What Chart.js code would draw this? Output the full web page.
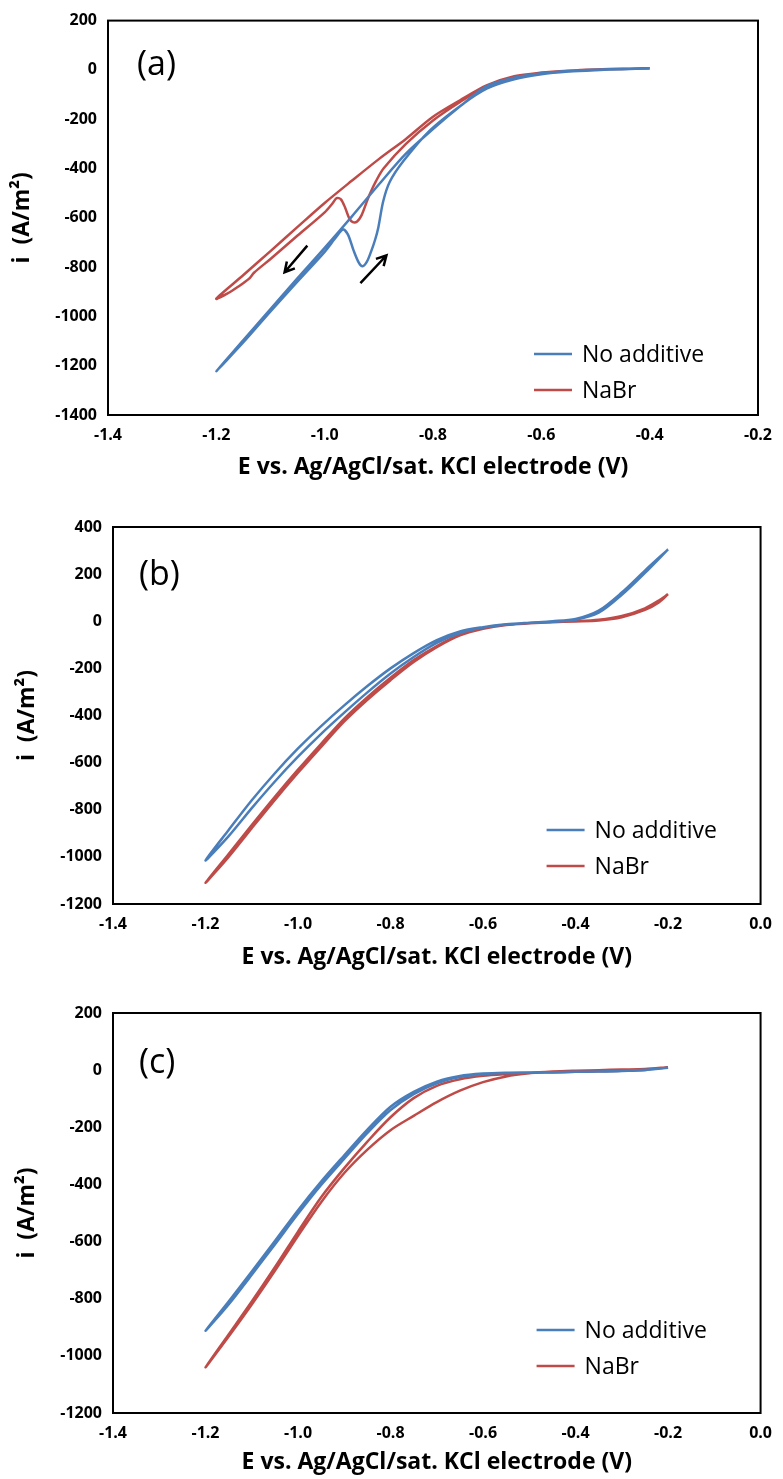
<!DOCTYPE html>
<html>
<head>
<meta charset="utf-8">
<script src="https://cdn.jsdelivr.net/npm/chart.js@4.4.1/dist/chart.umd.min.js"></script>
<style>
    body { margin: 0; background: #fff; }
    #wrap { position: relative; width: 783px; height: 1479px; }
    canvas { position: absolute; left: 0; }
</style>
</head>
<body>
<div id="wrap">
    <canvas id="chartA" width="783" height="490" style="top:0"></canvas>
    <canvas id="chartB" width="783" height="490" style="top:490px"></canvas>
    <canvas id="chartC" width="783" height="499" style="top:980px"></canvas>
</div>
<script>
const seriesLabels = ['No additive', 'NaBr'];
const xTitle = 'E vs. Ag/AgCl/sat. KCl electrode (V)';
const yTitle = 'i  (A/m\u00B2)';

const xTicksA = [-1.4, -1.2, -1.0, -0.8, -0.6, -0.4, -0.2];
const xTicksBC = [-1.4, -1.2, -1.0, -0.8, -0.6, -0.4, -0.2, 0.0];
const yTicksA = [200, 0, -200, -400, -600, -800, -1000, -1200, -1400];
const yTicksB = [400, 200, 0, -200, -400, -600, -800, -1000, -1200];
const yTicksC = [200, 0, -200, -400, -600, -800, -1000, -1200];

// (a) [E, i] pairs, sweep -0.4 -> -1.2 -> -0.4
const aNoAdditive = [
    [-0.40, 6], [-0.45, 4], [-0.50, 1], [-0.55, -4], [-0.60, -14], [-0.65, -32], [-0.70, -65],
    [-0.75, -148], [-0.80, -240], [-0.85, -340], [-0.90, -465], [-0.95, -595], [-1.00, -722],
    [-1.05, -845], [-1.10, -970], [-1.15, -1096], [-1.20, -1222],
    [-1.15, -1105], [-1.10, -980], [-1.05, -858], [-1.00, -738], [-0.978, -676], [-0.966, -648],
    [-0.957, -668], [-0.947, -730], [-0.937, -782], [-0.930, -797], [-0.922, -778], [-0.914, -735],
    [-0.907, -690], [-0.901, -640], [-0.892, -534], [-0.880, -455], [-0.855, -371], [-0.807, -248],
    [-0.746, -140], [-0.70, -75], [-0.65, -38], [-0.60, -18], [-0.55, -7], [-0.50, -1], [-0.45, 3], [-0.40, 6]
];
const aNaBr = [
    [-0.40, 7], [-0.45, 5], [-0.50, 2], [-0.55, -3], [-0.60, -11], [-0.65, -26], [-0.70, -62],
    [-0.75, -123], [-0.80, -190], [-0.85, -280], [-0.90, -362], [-0.95, -450], [-1.00, -540],
    [-1.05, -637], [-1.10, -735], [-1.15, -832], [-1.20, -928],
    [-1.18, -908], [-1.16, -880], [-1.14, -848], [-1.13, -822], [-1.10, -767], [-1.05, -672],
    [-1.00, -578], [-0.985, -540], [-0.978, -520], [-0.970, -525], [-0.962, -560], [-0.955, -600],
    [-0.948, -618], [-0.940, -615], [-0.932, -590], [-0.924, -545], [-0.917, -505], [-0.905, -450],
    [-0.891, -399], [-0.85, -300], [-0.80, -205], [-0.75, -130], [-0.70, -65], [-0.65, -30],
    [-0.60, -13], [-0.55, -4], [-0.50, 1], [-0.45, 4], [-0.40, 7]
];
// arrows in (a): [E0, i0, E1, i1], head at the second point
const arrowsA = [[-1.032, -713, -1.074, -821], [-0.934, -865, -0.886, -753]];

// (b) sweep -0.2 -> -1.2 -> -0.2
const bNoAdditive = [
    [-0.20, 305], [-0.25, 215], [-0.30, 122], [-0.35, 45], [-0.40, 10], [-0.45, 0], [-0.50, -6],
    [-0.55, -13], [-0.60, -25], [-0.65, -43], [-0.70, -80], [-0.75, -135], [-0.80, -200],
    [-0.85, -275], [-0.90, -357], [-0.95, -445], [-1.00, -540], [-1.05, -645], [-1.10, -760],
    [-1.15, -886], [-1.20, -1015],
    [-1.15, -912], [-1.10, -793], [-1.05, -680], [-1.00, -575], [-0.95, -478], [-0.90, -388],
    [-0.85, -302], [-0.80, -222], [-0.75, -152], [-0.70, -92], [-0.65, -50], [-0.60, -27],
    [-0.55, -14], [-0.50, -7], [-0.45, -2], [-0.40, 6], [-0.35, 36], [-0.30, 112], [-0.25, 205], [-0.20, 305]
];
const bNaBr = [
    [-0.20, 115], [-0.22, 88], [-0.25, 55], [-0.30, 22], [-0.35, 6], [-0.40, 0], [-0.45, -3],
    [-0.50, -8], [-0.55, -15], [-0.60, -30], [-0.65, -57], [-0.70, -105], [-0.75, -165],
    [-0.80, -240], [-0.85, -322], [-0.90, -413], [-0.95, -520], [-1.00, -630], [-1.05, -745],
    [-1.10, -865], [-1.15, -988], [-1.20, -1110],
    [-1.15, -1000], [-1.10, -878], [-1.05, -758], [-1.00, -643], [-0.95, -533], [-0.90, -425],
    [-0.85, -333], [-0.80, -250], [-0.75, -173], [-0.70, -110], [-0.65, -60], [-0.60, -32],
    [-0.55, -16], [-0.50, -9], [-0.45, -4], [-0.40, -1], [-0.35, 3], [-0.30, 17], [-0.25, 48], [-0.22, 80], [-0.20, 115]
];

// (c) sweep -0.2 -> -1.2 -> -0.2
const cNoAdditive = [
    [-0.20, 8], [-0.25, 1], [-0.30, -3], [-0.35, -5], [-0.40, -6], [-0.45, -7], [-0.50, -8],
    [-0.55, -9], [-0.60, -12], [-0.65, -20], [-0.70, -40], [-0.75, -76], [-0.80, -128],
    [-0.85, -208], [-0.90, -298], [-0.95, -390], [-1.00, -490], [-1.05, -598], [-1.10, -705],
    [-1.15, -810], [-1.20, -912],
    [-1.15, -820], [-1.10, -716], [-1.05, -610], [-1.00, -503], [-0.95, -402], [-0.90, -310],
    [-0.85, -220], [-0.80, -140], [-0.75, -84], [-0.70, -46], [-0.65, -24], [-0.60, -14],
    [-0.55, -10], [-0.50, -8], [-0.45, -7], [-0.40, -6], [-0.35, -5], [-0.30, -3], [-0.25, 0], [-0.20, 8]
];
const cNaBr = [
    [-0.20, 10], [-0.25, 3], [-0.30, -2], [-0.35, -4], [-0.40, -6], [-0.45, -8], [-0.50, -10],
    [-0.55, -14], [-0.60, -20], [-0.65, -32], [-0.70, -55], [-0.75, -98], [-0.80, -165],
    [-0.85, -250], [-0.90, -343], [-0.95, -445], [-1.00, -565], [-1.05, -690], [-1.10, -810],
    [-1.15, -925], [-1.20, -1040],
    [-1.15, -932], [-1.10, -820], [-1.05, -702], [-1.00, -580], [-0.95, -462], [-0.90, -360],
    [-0.85, -278], [-0.80, -210], [-0.75, -160], [-0.70, -112], [-0.65, -72], [-0.60, -42],
    [-0.55, -22], [-0.50, -11], [-0.45, -5], [-0.40, -2], [-0.35, 0], [-0.30, 2], [-0.25, 4], [-0.20, 10]
];

const colors = ['#4A7EBB', '#BE4B48'];
const tickFont = { family: '"Open Sans", "DejaVu Sans", sans-serif', size: 16, weight: 'bold' };
const titleFont = { family: '"Open Sans", "DejaVu Sans", sans-serif', size: 23, weight: 'bold' };

// box, panel tag, inside legend and arrows
const panelPlugin = {
    id: 'panel',
    afterDraw(chart, args, opts) {
        const { ctx, chartArea: a } = chart;
        ctx.save();
        ctx.strokeStyle = '#000';
        ctx.lineWidth = 2;
        ctx.strokeRect(a.left, a.top, a.right - a.left, a.bottom - a.top);

        ctx.fillStyle = '#000';
        ctx.font = '34px "Open Sans", "DejaVu Sans", sans-serif';
        ctx.textBaseline = 'middle';
        ctx.textAlign = 'left';
        ctx.fillText(opts.tag, a.left + opts.tagX, a.top + opts.tagY);

        ctx.font = '23px "Open Sans", "DejaVu Sans", sans-serif';
        chart.data.datasets.forEach((ds, i) => {
            const y = a.bottom - opts.legendY + i * 36;
            const x = a.right - opts.legendX;
            ctx.strokeStyle = ds.borderColor;
            ctx.lineWidth = 2.5;
            ctx.beginPath();
            ctx.moveTo(x, y);
            ctx.lineTo(x + 38, y);
            ctx.stroke();
            ctx.fillStyle = '#000';
            ctx.fillText(ds.label, x + 48, y + 1);
        });

        const xs = chart.scales.x, ys = chart.scales.y;
        (opts.arrows || []).forEach(ar => {
            const x0 = xs.getPixelForValue(ar[0]), y0 = ys.getPixelForValue(ar[1]);
            const x1 = xs.getPixelForValue(ar[2]), y1 = ys.getPixelForValue(ar[3]);
            const ang = Math.atan2(y1 - y0, x1 - x0);
            ctx.strokeStyle = '#000';
            ctx.lineWidth = 2.5;
            ctx.beginPath();
            ctx.moveTo(x0, y0);
            ctx.lineTo(x1, y1);
            ctx.moveTo(x1 - 11 * Math.cos(ang - 0.5), y1 - 11 * Math.sin(ang - 0.5));
            ctx.lineTo(x1, y1);
            ctx.lineTo(x1 - 11 * Math.cos(ang + 0.5), y1 - 11 * Math.sin(ang + 0.5));
            ctx.stroke();
        });
        ctx.restore();
    }
};

function makeChart(id, p) {
    new Chart(document.getElementById(id), {
        type: 'scatter',
        data: {
            datasets: p.series.map((s, i) => ({
                label: seriesLabels[i],
                data: s.map(d => ({ x: d[0], y: d[1] })),
                showLine: true,
                borderColor: colors[i],
                backgroundColor: colors[i],
                borderWidth: 2.5,
                pointRadius: 0,
                tension: 0.3
            }))
        },
        options: {
            responsive: false,
            animation: false,
            layout: { padding: { top: p.top, right: 17, left: 0, bottom: 0 } },
            plugins: {
                legend: { display: false },
                tooltip: { enabled: false },
                panel: p.panel
            },
            scales: {
                x: {
                    type: 'linear',
                    min: p.xTicks[0],
                    max: p.xTicks[p.xTicks.length - 1],
                    afterBuildTicks: s => { s.ticks = p.xTicks.map(v => ({ value: v })); },
                    afterFit: s => { s.height = p.xHeight; },
                    grid: { display: false, drawTicks: false },
                    border: { display: false },
                    ticks: {
                        color: '#000', font: tickFont, padding: 11, maxRotation: 0,
                        callback: v => v.toFixed(1)
                    },
                    title: {
                        display: true, text: xTitle, color: '#000', font: titleFont,
                        padding: { top: 0, bottom: p.xTitlePad }
                    }
                },
                y: {
                    type: 'linear',
                    min: p.yTicks[p.yTicks.length - 1],
                    max: p.yTicks[0],
                    afterBuildTicks: s => { s.ticks = p.yTicks.map(v => ({ value: v })); },
                    afterFit: s => { s.width = p.left; },
                    grid: { display: false, drawTicks: false },
                    border: { display: false },
                    ticks: { color: '#000', font: tickFont, padding: 11, callback: v => String(v) },
                    title: {
                        display: true, text: yTitle, color: '#000', font: titleFont,
                        padding: { top: p.yTitlePad, bottom: 0 }
                    }
                }
            }
        },
        plugins: [panelPlugin]
    });
}

makeChart('chartA', {
    series: [aNoAdditive, aNaBr], xTicks: xTicksA, yTicks: yTicksA,
    top: 19, left: 108, xHeight: 75, xTitlePad: 9, yTitlePad: 9,
    panel: { tag: '(a)', tagX: 29, tagY: 45, legendX: 224, legendY: 61, arrows: arrowsA }
});
makeChart('chartB', {
    series: [bNoAdditive, bNaBr], xTicks: xTicksBC, yTicks: yTicksB,
    top: 37, left: 113, xHeight: 76, xTitlePad: 9, yTitlePad: 14,
    panel: { tag: '(b)', tagX: 26, tagY: 48, legendX: 214, legendY: 74, arrows: [] }
});
makeChart('chartC', {
    series: [cNoAdditive, cNaBr], xTicks: xTicksBC, yTicks: yTicksC,
    top: 33, left: 113, xHeight: 66, xTitlePad: 3, yTitlePad: 14,
    panel: { tag: '(c)', tagX: 26, tagY: 50, legendX: 224, legendY: 83, arrows: [] }
});
</script>
</body>
</html>
